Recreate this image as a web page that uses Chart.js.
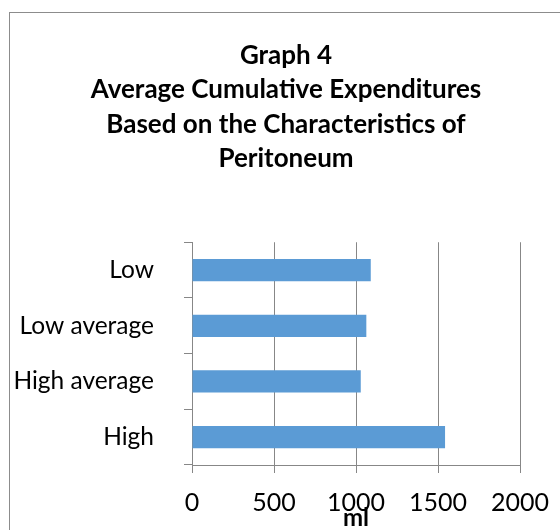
<!DOCTYPE html>
<html>
<head>
<meta charset="utf-8">
<script src="https://cdn.jsdelivr.net/npm/chart.js@4"></script>
<style>
html,body{margin:0;padding:0;background:#fff;overflow:hidden;}
#wrap{position:relative;width:560px;height:530px;}
#frame{position:absolute;left:9px;top:12px;width:700px;height:700px;border:1px solid #8c8c8c;box-sizing:border-box;}
#c{position:absolute;left:0;top:0;}
</style>
</head>
<body>
<div id="wrap">
<div id="frame"></div>
<canvas id="c" width="560" height="530"></canvas>
</div>
<script>
const titleLines = ['Graph 4', 'Average Cumulative Expenditures', 'Based on the Characteristics of', 'Peritoneum'];
const categories = ['Low', 'Low average', 'High average', 'High'];
const values = [1090, 1063, 1029, 1543];
const xTicks = [0, 500, 1000, 1500, 2000];
const axisTitle = 'ml';

const FONT = 'Lato, "Liberation Sans", sans-serif';
const GRID = '#878787';

new Chart(document.getElementById('c'), {
  type: 'bar',
  data: {
    labels: categories,
    datasets: [{
      data: values,
      backgroundColor: '#5B9BD5',
      borderWidth: 0,
      categoryPercentage: 1,
      barPercentage: 0.4
    }]
  },
  options: {
    indexAxis: 'y',
    responsive: false,
    animation: false,
    layout: { padding: { left: 12, right: 0, top: 4, bottom: 0 } },
    plugins: {
      legend: { display: false },
      tooltip: { enabled: false },
      title: {
        display: true,
        text: titleLines,
        color: '#000',
        font: { family: FONT, size: 26, weight: 'bold', lineHeight: 1.31 },
        padding: { top: 35, bottom: 67 }
      }
    },
    scales: {
      x: {
        min: xTicks[0],
        max: xTicks[xTicks.length - 1],
        afterBuildTicks: (s) => { s.ticks = xTicks.map(v => ({ value: v })); },
        grid: { color: GRID, lineWidth: 1, tickLength: 8, drawOnChartArea: true },
        border: { color: GRID, width: 1 },
        ticks: { color: '#000', font: { family: FONT, size: 25 }, padding: 15, maxRotation: 0,
                 callback: (v) => String(v) },
        title: { display: true, text: axisTitle, color: '#000', font: { family: FONT, size: 24, weight: 'bold', lineHeight: 1 }, padding: 0 },
        afterFit: (s) => { s.height = 65; s.paddingLeft = 0; s.paddingRight = 40; }
      },
      y: {
        grid: { color: GRID, lineWidth: 1, tickLength: 8, drawOnChartArea: false, offset: true },
        border: { color: GRID, width: 1 },
        ticks: { color: '#000', font: { family: FONT, size: 24.5 }, padding: 30 },
        afterFit: (s) => { s.width = 180; s.paddingTop = 0; s.paddingBottom = 0; }
      }
    }
  }
});
</script>
</body>
</html>
